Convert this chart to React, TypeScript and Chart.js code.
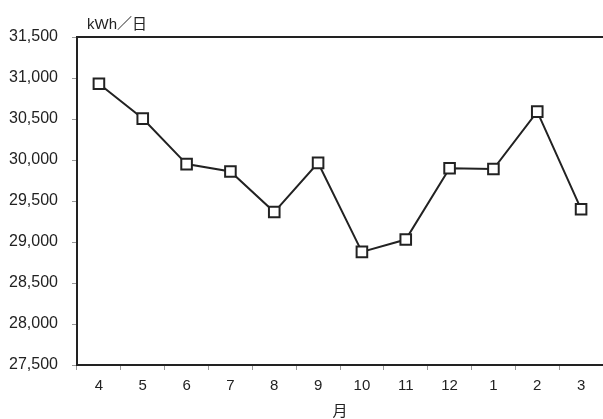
import React, { useEffect, useRef } from "react";
import { Chart, registerables } from "chart.js";

Chart.register(...registerables);

const months: string[] = ["4", "5", "6", "7", "8", "9", "10", "11", "12", "1", "2", "3"];
const usage: number[] = [30930, 30505, 29950, 29860, 29365, 29965, 28880, 29030, 29900, 29890, 30590, 29400];
const yMin = 27500;
const yMax = 31500;
const yStep = 500;
const unitLabel = "kWh／日";
const xTitle = "月";

const decorPlugin = {
  id: "decor",
  afterDraw(chart: any) {
    const { ctx, chartArea } = chart;
    ctx.save();
    ctx.strokeStyle = "#222";
    ctx.lineWidth = 2;
    ctx.beginPath();
    ctx.moveTo(chartArea.left, chartArea.top);
    ctx.lineTo(chartArea.right, chartArea.top);
    ctx.stroke();
    ctx.fillStyle = "#222";
    ctx.font = "15px 'Liberation Sans', 'Noto Sans CJK JP', sans-serif";
    ctx.textBaseline = "middle";
    ctx.textAlign = "left";
    ctx.fillText(unitLabel, chartArea.left + 10, chartArea.top - 12);
    ctx.restore();
  },
};

export default function App() {
  const ref = useRef<HTMLCanvasElement | null>(null);
  useEffect(() => {
    if (!ref.current) return;
    const chart = new Chart(ref.current, {
      type: "line",
      data: {
        labels: months,
        datasets: [
          {
            data: usage,
            borderColor: "#222",
            borderWidth: 2,
            pointStyle: "rect",
            pointRadius: 7.5,
            pointBorderWidth: 2,
            pointBorderColor: "#222",
            pointBackgroundColor: "#fff",
            tension: 0,
          },
        ],
      },
      options: {
        animation: false,
        responsive: false,
        maintainAspectRatio: false,
        layout: { autoPadding: false, padding: { top: 37, right: 0, bottom: 0, left: 0 } },
        plugins: { legend: { display: false }, tooltip: { enabled: false } },
        scales: {
          x: {
            offset: true,
            grid: { drawOnChartArea: false, drawTicks: true, tickLength: 5, color: "#999", offset: true },
            border: { display: true, color: "#222", width: 2 },
            ticks: { color: "#222", font: { family: "'Liberation Sans', Arial, sans-serif", size: 15 }, padding: 7 },
            title: { display: true, text: xTitle, color: "#222", font: { family: "'Noto Sans CJK JP', sans-serif", size: 15 }, padding: { top: 2, bottom: 0 } },
            afterFit: (scale: any) => { scale.height = 54; },
          },
          y: {
            min: yMin,
            max: yMax,
            grid: { drawOnChartArea: false, drawTicks: true, tickLength: 5, color: "#999" },
            border: { display: true, color: "#222", width: 2 },
            ticks: {
              stepSize: yStep,
              color: "#222",
              padding: 14,
              font: { family: "'Liberation Sans', Arial, sans-serif", size: 16 },
              callback: (v: any) => Number(v).toLocaleString("en-US"),
            },
            afterFit: (scale: any) => { scale.width = 77; },
          },
        },
      },
      plugins: [decorPlugin],
    });
    return () => chart.destroy();
  }, []);
  return (
    <div style={{ position: "fixed", left: 0, top: 0, width: 603, height: 419, background: "#fff" }}>
      <canvas ref={ref} width={603} height={419} style={{ display: "block" }} />
    </div>
  );
}
